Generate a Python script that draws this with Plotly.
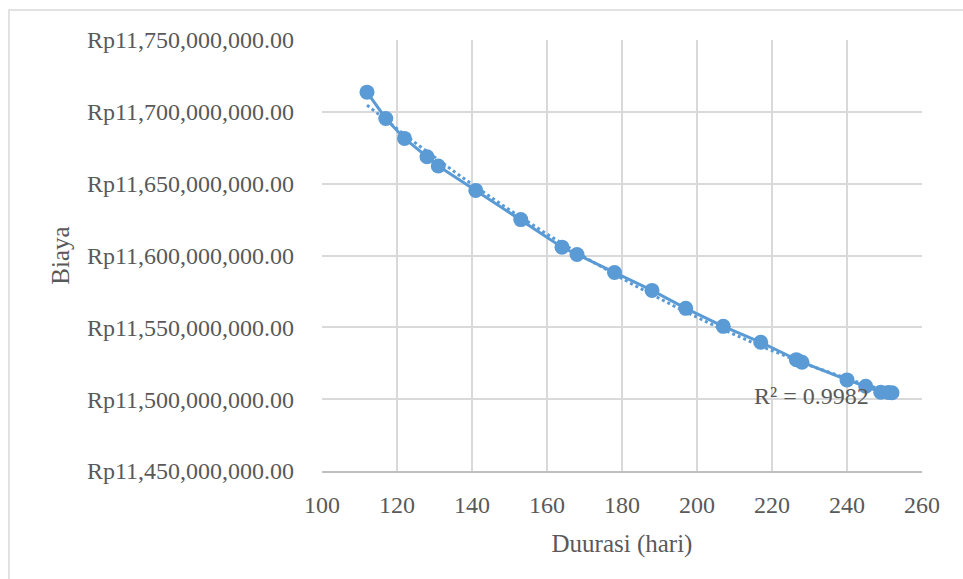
import numpy as np
import plotly.graph_objects as go

durasi = [112, 117, 122, 128, 131, 141, 153, 164, 168, 178, 188, 197, 207, 217,
          226.5, 228, 240, 245, 249, 251, 252]
biaya = [11713.7e6, 11695.4e6, 11681.5e6, 11668.7e6, 11662.3e6, 11645.3e6, 11625.0e6,
         11605.8e6, 11600.7e6, 11588.2e6, 11575.7e6, 11563.2e6, 11550.7e6, 11539.6e6,
         11527.5e6, 11525.7e6, 11513.4e6, 11509.0e6, 11504.8e6, 11504.6e6, 11504.5e6]
x_ticks = [100, 120, 140, 160, 180, 200, 220, 240, 260]
y_ticks = [11450e6, 11500e6, 11550e6, 11600e6, 11650e6, 11700e6, 11750e6]
y_labels = ["Rp11,450,000,000.00", "Rp11,500,000,000.00", "Rp11,550,000,000.00",
            "Rp11,600,000,000.00", "Rp11,650,000,000.00", "Rp11,700,000,000.00",
            "Rp11,750,000,000.00"]
r2_text = "R² = 0.9982"

blue = "#5B9BD5"
grid = "#D9D9D9"
txt = "#595959"
font = "Liberation Serif"

# polynomial (order 2) trendline fitted from the data
coef = np.polyfit(durasi, biaya, 2)
xt = np.linspace(min(durasi), max(durasi), 200)
yt = np.polyval(coef, xt)

fig = go.Figure()
fig.add_trace(go.Scatter(x=durasi, y=biaya, mode="lines+markers",
                         line=dict(color=blue, width=3),
                         marker=dict(color=blue, size=15), showlegend=False))
fig.add_trace(go.Scatter(x=xt, y=yt, mode="lines",
                         line=dict(color=blue, width=3, dash="dot"),
                         showlegend=False, hoverinfo="skip"))

fig.add_annotation(x=246.3, y=11502e6, xref="x", yref="y", text=r2_text,
                   showarrow=False, xanchor="right", yanchor="middle",
                   font=dict(family=font, size=24, color=txt))

fig.add_shape(type="rect", xref="paper", yref="paper", layer="below",
              x0=-322/600 + 9/600, x1=1.2, y0=-0.4, y1=1 + 30/431,
              line=dict(color=grid, width=1.5), fillcolor="rgba(0,0,0,0)")

fig.update_layout(
    width=963, height=579,
    margin=dict(l=322, r=41, t=40, b=108),
    paper_bgcolor="white", plot_bgcolor="white",
    font=dict(family=font, color=txt, size=24),
    xaxis=dict(range=[100, 260], tickvals=x_ticks, showgrid=True, gridcolor=grid,
               gridwidth=1.5, zeroline=False, showline=True, linecolor="#BFBFBF",
               linewidth=1.5, ticks="", ticklabelstandoff=11, automargin=False,
               tickfont=dict(family=font, size=24, color=txt),
               title=dict(text="Duurasi (hari)", standoff=18,
                          font=dict(family=font, size=25, color=txt))),
    yaxis=dict(range=[11450e6, 11750e6], tickvals=y_ticks, ticktext=y_labels,
               showgrid=True, gridcolor=grid, gridwidth=1.5, zeroline=False,
               showline=False, ticks="", ticklabelstandoff=27, automargin=False,
               tickfont=dict(family=font, size=24, color=txt),
               title=dict(text="Biaya", standoff=10,
                          font=dict(family=font, size=25, color=txt))),
)

fig.write_html("out.html", config={"displayModeBar": False},
               post_script="document.body.style.margin='0px';")
